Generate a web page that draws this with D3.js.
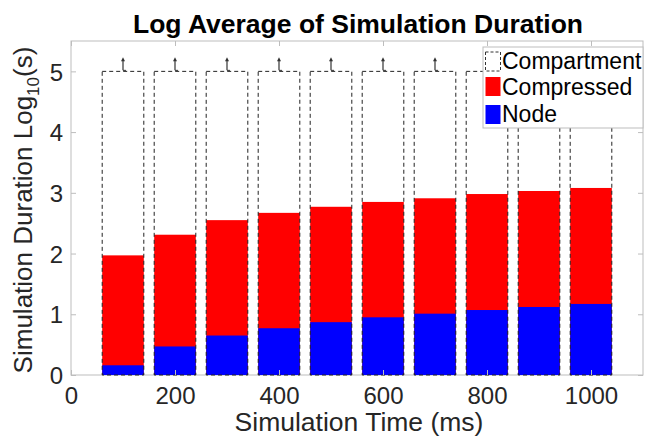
<!DOCTYPE html>
<html><head><meta charset="utf-8">
<script src="https://cdn.jsdelivr.net/npm/d3@7"></script>
<style>body{margin:0;background:#fff}svg{display:block}text{font-family:"Liberation Sans",Arial,Helvetica,sans-serif}</style>
</head><body>
<svg id="c" width="648" height="438"></svg>
<script>
const times = [100,200,300,400,500,600,700,800,900,1000];
const compartment = [5,5,5,5,5,5,5,5,5,5];
const compressed = [1.97,2.31,2.55,2.67,2.77,2.85,2.91,2.98,3.03,3.08];
const node = [0.16,0.47,0.65,0.77,0.87,0.95,1.01,1.07,1.12,1.17];
const xTicks = [0,200,400,600,800,1000];
const yTicks = [0,1,2,3,4,5];
const legendLabels = ["Compartment","Compressed","Node"];
const barWidth = 80;

const svg = d3.select("#c");
const L=71,R=643,T=41,B=375;
const x = d3.scaleLinear().domain([0,1100]).range([L,R]);
const y = d3.scaleLinear().domain([0,5.5]).range([B,T]);
const axCol="#bdbdbd", txtCol="#262626";

svg.append("rect").attr("x",L).attr("y",T).attr("width",R-L).attr("height",B-T)
  .attr("fill","none").attr("stroke",axCol).attr("stroke-width",1);

svg.append("g").selectAll("rect").data(times).join("rect")
  .attr("x",d=>x(d-barWidth/2)).attr("width",x(barWidth)-x(0))
  .attr("y",(d,i)=>y(compressed[i])).attr("height",(d,i)=>y(0)-y(compressed[i]))
  .attr("fill","#ff0000");
svg.append("g").selectAll("rect").data(times).join("rect")
  .attr("x",d=>x(d-barWidth/2)).attr("width",x(barWidth)-x(0))
  .attr("y",(d,i)=>y(node[i])).attr("height",(d,i)=>y(0)-y(node[i]))
  .attr("fill","#0000ff");
svg.append("g").selectAll("rect").data(times).join("rect")
  .attr("x",d=>x(d-barWidth/2)).attr("width",x(barWidth)-x(0))
  .attr("y",(d,i)=>y(compartment[i])).attr("height",(d,i)=>y(0)-y(compartment[i]))
  .attr("fill","none").attr("stroke","#222").attr("stroke-width",1).attr("stroke-dasharray","4,3");
const ag = svg.append("g");
times.forEach((t,i)=>{
  const cx = x(t), top = y(compartment[i]);
  ag.append("line").attr("x1",cx).attr("x2",cx).attr("y1",top-12).attr("y2",top-1).attr("stroke","#333").attr("stroke-width",1.2);
  ag.append("path").attr("d",`M${cx-2},${top-10}L${cx},${top-14}L${cx+2},${top-10}Z`).attr("fill","#333");
  ag.append("line").attr("x1",cx).attr("x2",cx+3).attr("y1",top-1).attr("y2",top-1).attr("stroke","#333").attr("stroke-width",1);
});

const fmt = d3.format("d");
const xa = svg.append("g").attr("transform",`translate(0,${B})`)
  .call(d3.axisBottom(x).tickValues(xTicks).tickFormat(fmt).tickSize(-5).tickPadding(12));
const xt = svg.append("g").attr("transform",`translate(0,${T})`)
  .call(d3.axisTop(x).tickValues(xTicks).tickSize(-5).tickFormat(""));
const ya = svg.append("g").attr("transform",`translate(${L},0)`)
  .call(d3.axisLeft(y).tickValues(yTicks).tickFormat(fmt).tickSize(-5).tickPadding(8));
const yr = svg.append("g").attr("transform",`translate(${R},0)`)
  .call(d3.axisRight(y).tickValues(yTicks).tickSize(-5).tickFormat(""));
[xa,xt,ya,yr].forEach(g=>{
  g.attr("font-size",null).attr("font-family",null);
  g.select(".domain").remove();
  g.selectAll("line").attr("stroke",axCol);
  g.selectAll("text").attr("fill",txtCol).style("font-size","24px");
});
xa.selectAll("text").attr("dy",null).attr("y",null).attr("transform","translate(0,29)");
ya.selectAll("text").attr("dy","0.36em");

svg.append("text").attr("x",358).attr("y",33).attr("text-anchor","middle")
  .style("font-size","26.5px").style("font-weight","bold").attr("fill","#000")
  .text("Log Average of Simulation Duration");
svg.append("text").attr("x",359).attr("y",431).attr("text-anchor","middle")
  .style("font-size","26.5px").attr("fill",txtCol).text("Simulation Time (ms)");
const yl = svg.append("text").attr("transform",`translate(32,${(T+B)/2+2}) rotate(-90)`)
  .attr("text-anchor","middle").style("font-size","26px").attr("fill",txtCol);
yl.append("tspan").text("Simulation Duration Log");
yl.append("tspan").attr("dy",7).style("font-size","17px").text("10");
yl.append("tspan").attr("dy",-7).text("(s)");

const lg = svg.append("g");
lg.append("rect").attr("x",483).attr("y",47).attr("width",160).attr("height",81)
  .attr("fill","#fff").attr("stroke",axCol);
const sw = [{fill:"none",stroke:"#333",dash:"3,2"},{fill:"#ff0000"},{fill:"#0000ff"}];
const swY = [52,77,105], txY = [69,95,122];
legendLabels.forEach((lab,i)=>{
  lg.append("rect").attr("x",485.5).attr("y",swY[i]).attr("width",15).attr("height",19)
    .attr("fill",sw[i].fill).attr("stroke",sw[i].stroke||"none").attr("stroke-dasharray",sw[i].dash||null);
  lg.append("text").attr("x",502).attr("y",txY[i]).style("font-size","23px").attr("fill","#000").text(lab);
});
</script>
</body></html>
